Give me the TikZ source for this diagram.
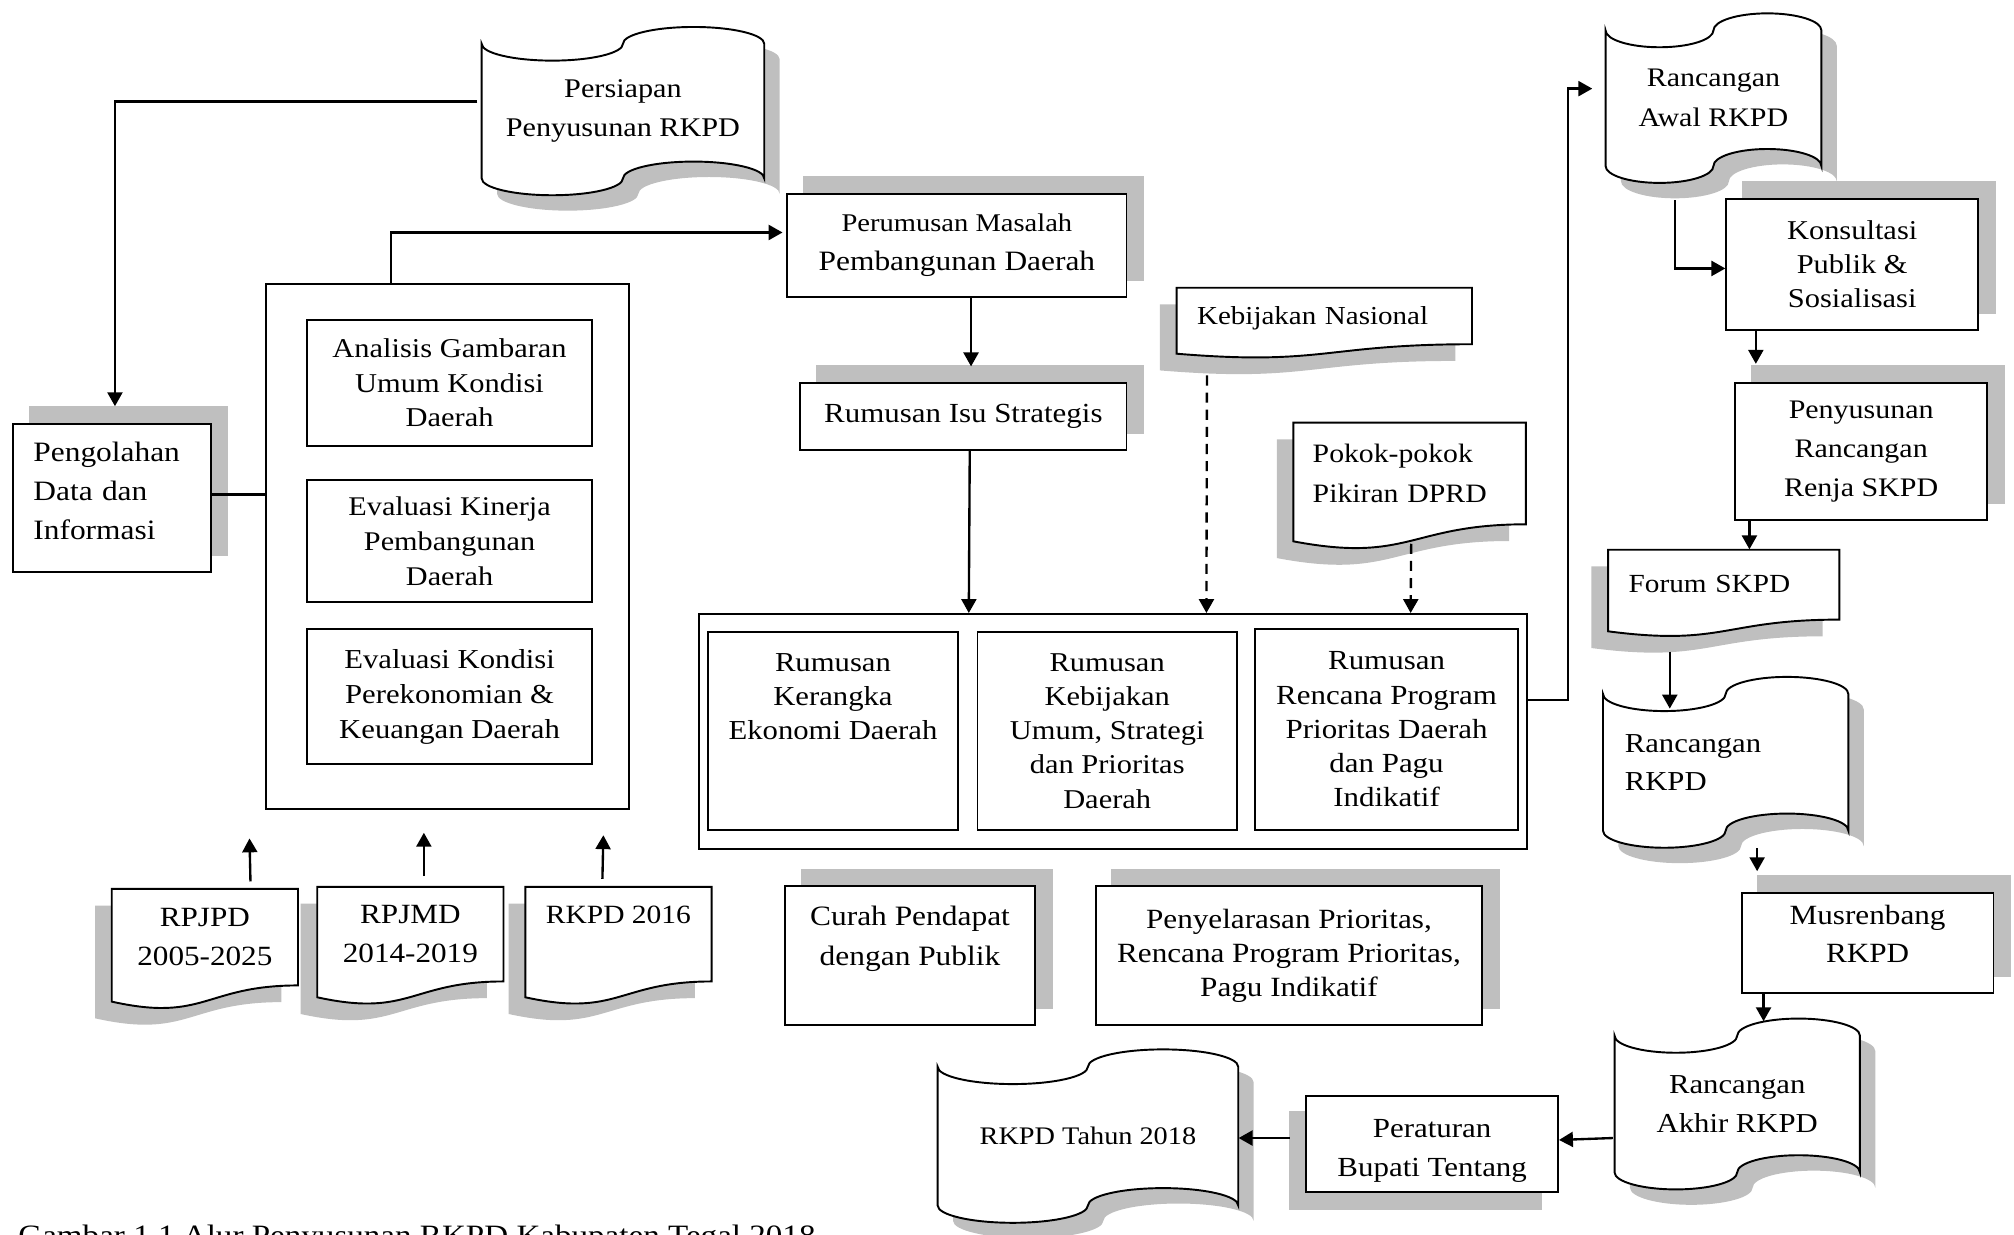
\documentclass[tikz,border=0pt]{standalone}
\usepackage{fontspec}
\setmainfont{Liberation Serif}[FakeStretch=1.12]
\usetikzlibrary{arrows.meta,calc}
\pgfdeclarelayer{shd}
\pgfdeclarelayer{bg}
\pgfsetlayers{shd,bg,main}
\definecolor{shadowc}{RGB}{191,191,191}
\newcommand\fsz[2]{\fontsize{#1}{#2}\selectfont}
\newcommand\tapepath{(0,0.1) .. controls (0,0.1552) and (0.1119,0.2) .. (0.25,0.2) .. controls (0.3881,0.2) and (0.5,0.1552) .. (0.5,0.1) .. controls (0.5,0.0448) and (0.6119,0) .. (0.75,0) .. controls (0.8881,0) and (1,0.0448) .. (1,0.1) -- (1,0.9) .. controls (1,0.8448) and (0.8881,0.8) .. (0.75,0.8) .. controls (0.6119,0.8) and (0.5,0.8448) .. (0.5,0.9) .. controls (0.5,0.9552) and (0.3881,1) .. (0.25,1) .. controls (0.1119,1) and (0,0.9552) .. (0,0.9) -- cycle}
\newcommand\docpath{(0,0) -- (1,0) -- (1,0.8) .. controls (0.5,0.8) and (0.5,1.107) .. (0,0.934) -- cycle}
\newcommand\tapeshape[4]{%
  \begin{pgfonlayer}{shd}\fill[shadowc,shift={(#1+12,#2+12)},xscale=#3,yscale=#4]\tapepath;\end{pgfonlayer}
  \begin{pgfonlayer}{bg}\filldraw[fill=white,draw=black,line width=0.9pt,shift={(#1,#2)},xscale=#3,yscale=#4]\tapepath;\end{pgfonlayer}}
\newcommand\docshape[4]{%
  \begin{pgfonlayer}{shd}\fill[shadowc,shift={(#1-13,#2+13)},xscale=#3,yscale=#4]\docpath;\end{pgfonlayer}
  \begin{pgfonlayer}{bg}\filldraw[fill=white,draw=black,line width=0.9pt,shift={(#1,#2)},xscale=#3,yscale=#4]\docpath;\end{pgfonlayer}}
\newcommand\rshadow[3]{%
  \begin{pgfonlayer}{shd}\fill[shadowc] ($(#1.south west)+(#2,#3)$) rectangle ($(#1.north east)+(#2,#3)$);\end{pgfonlayer}}
\tikzset{
  wh/.style 2 args={minimum width=#1*0.6pt, minimum height=#2*0.6pt},
  box/.style={draw, fill=white, line width=0.9pt, inner sep=0pt, align=center, font=\fsz{12.8}{18}},
  ghost/.style={inner sep=0pt, align=center, font=\fsz{12.8}{18}},
  conn/.style={line width=1.1pt},
  arr/.style={conn, -{Triangle[length=6.5pt,width=7pt]}},
  darr/.style={arr, dash pattern=on 4.7pt off 3.3pt},
}
\begin{document}
\begin{tikzpicture}[x=0.6pt,y=-0.6pt]
\useasboundingbox (0,0) rectangle (1568,961.5);

% ---------- left column ----------
\tapeshape{375}{21}{220}{131}
\node[ghost,wh={220}{131},font=\fsz{12.6}{18}] (pers) at (485,86.5) {Persiapan\\Penyusunan RKPD};

\node[box,wh={154}{115},text width=73.2pt,align=left,font=\fsz{13.1}{18.3}] (peng) at (87,387.5) {Pengolahan\\Data dan\\Informasi\\[-12pt]\mbox{}};
\rshadow{peng}{13}{-13}

\node[box,wh={283}{409}] (outer) at (348.5,425.5) {};
\node[box,wh={222}{98},font=\fsz{12.7}{16.2}] (anal) at (350,298) {Analisis Gambaran\\Umum Kondisi\\Daerah};
\node[box,wh={222}{95},font=\fsz{12.6}{16.2}] (evk) at (350,421.5) {Evaluasi Kinerja\\Pembangunan\\Daerah};
\node[box,wh={222}{105},font=\fsz{12.8}{16.2}] (evko) at (350,542.5) {Evaluasi Kondisi\\Perekonomian \&\\Keuangan Daerah};

\docshape{87}{692}{145}{94}
\node[ghost,wh={145}{75},font=\fsz{13}{18}] (rpjpd) at (159.5,729.5) {RPJPD\\2005-2025};
\docshape{247}{690.5}{145}{92}
\node[ghost,wh={145}{73.6},font=\fsz{13}{18}] (rpjmd) at (319.5,727.3) {RPJMD\\2014-2019};
\docshape{409}{690.5}{145}{92}
\node[ghost,wh={145}{73.6},font=\fsz{12.3}{18}] (rk16) at (481.5,727.3) {RKPD 2016\\\mbox{}};

% ---------- middle ----------
\node[box,wh={264}{80},font=\fsz{13.1}{18}] (perum) at (745,191) {{\fsz{11.9}{18}Perumusan Masalah}\\Pembangunan Daerah};
\rshadow{perum}{13}{-13}
\node[box,wh={254}{52},font=\fsz{12.9}{18}] (isu) at (750,324) {Rumusan Isu Strategis};
\rshadow{isu}{13}{-13}

\docshape{916}{224}{230}{55}
\node[ghost,wh={230}{44},text width=118.8pt,align=left,font=\fsz{12.1}{18}] (kebnas) at (1031,247.5) {Kebijakan Nasional};
\docshape{1007}{329}{181}{99}
\node[ghost,wh={181}{79},text width=90.6pt,align=left,font=\fsz{12.4}{18.6}] (pokok) at (1097.5,368.5) {Pokok-pokok\\Pikiran DPRD};

\node[box,wh={645}{183}] (big) at (866.5,569.5) {};
\node[box,wh={195}{154},font=\fsz{12.8}{16}] (rkek) at (648.5,569) {Rumusan\\Kerangka\\Ekonomi Daerah\\\mbox{}\\\mbox{}};
\node[box,wh={202}{154},font=\fsz{12.7}{16}] (rkeb) at (862,569) {Rumusan\\Kebijakan\\Umum, Strategi\\dan Prioritas\\Daerah};
\node[box,wh={205}{156},font=\fsz{12.9}{16}] (rprog) at (1079.5,568) {Rumusan\\Rencana Program\\Prioritas Daerah\\dan Pagu\\Indikatif};

\node[box,wh={195}{108},font=\fsz{13.1}{18.6}] (curah) at (708.5,744) {Curah Pendapat\\dengan Publik\\\mbox{}};
\rshadow{curah}{13}{-13}
\node[box,wh={301}{108},font=\fsz{13.0}{15.9}] (selaras) at (1003.5,744) {Penyelarasan Prioritas,\\Rencana Program Prioritas,\\Pagu Indikatif};
\rshadow{selaras}{13}{-13}

\tapeshape{730}{817}{234}{135}
\node[ghost,wh={234}{135},font=\fsz{11.8}{18}] (rk18) at (847,884.5) {RKPD Tahun 2018};
\node[box,wh={196}{75},font=\fsz{12.9}{18}] (perat) at (1115,890.5) {\rule{0pt}{15pt}Peraturan\\Bupati Tentang};
\rshadow{perat}{-13}{13}

% ---------- right column ----------
\tapeshape{1250}{10.4}{168}{132}
\node[ghost,wh={168}{132},font=\fsz{12.5}{18.6}] (awal) at (1334,76.4) {Rancangan\\Awal RKPD};
\node[box,wh={196}{102},font=\fsz{12.7}{15.9}] (kons) at (1442,206) {Konsultasi\\Publik \&\\Sosialisasi};
\rshadow{kons}{13}{-13}
\node[box,wh={196}{107},font=\fsz{12.5}{18.3}] (renja) at (1449,351.5) {Penyusunan\\Rancangan\\Renja SKPD};
\rshadow{renja}{13}{-13}
\docshape{1252}{428}{180}{68}
\node[ghost,wh={180}{54},text width=88.8pt,align=left,font=\fsz{12.2}{18}] (forum) at (1342,455) {Forum SKPD};
\tapeshape{1248}{527}{191}{133}
\node[ghost,wh={191}{133},text width=94.2pt,align=left,font=\fsz{12.8}{18}] (rrkpd) at (1343.5,593.5) {Rancangan\\RKPD};
\node[box,wh={196}{78},font=\fsz{13.0}{17.4}] (mus) at (1454,734) {Musrenbang\\RKPD\\[-9pt]\mbox{}};
\rshadow{mus}{13}{-13}
\tapeshape{1257}{793}{191}{133}
\node[ghost,wh={191}{133},font=\fsz{12.8}{18.6}] (akhir) at (1352.5,859.5) {Rancangan\\Akhir RKPD};

% ---------- caption (cut by the lower edge, as in the reference) ----------
\node[anchor=base west,inner sep=0pt,font=\fsz{13.8}{16}] (cap) at (14,969.7) {Gambar 1.1 Alur Penyusunan RKPD Kabupaten Tegal 2018};

% ---------- connectors ----------
\draw[arr] ($(pers.west)+(-3,-7.5)$) -| ($(peng.north)+(2.5,-13)$);
\draw[conn] ($(peng.east)+(0,-2.5)$) -- ($(outer.west)+(0,-40.5)$);
\draw[arr] ($(outer.north west)+(98,0)$) |- ($(perum.west)+(-3,-10)$);
\draw[arr] ($(perum.south)+(11,0)$) -- ($(isu.north)+(6,-12)$);
\draw[arr] ($(isu.south)+(5,0)$) -- ($(big.north west)+(211,0)$);
\draw[darr] ($(kebnas.south west)+(24,22.5)$) -- ($(big.north west)+(396,0)$);
\draw[darr] ($(pokok.south west)+(92,15)$) -- ($(big.north west)+(555,0)$);
\draw[arr] ($(big.east)+(0,-24.5)$) -- ++(31,0) |- ($(awal.west)+(-10,-7.4)$);
\draw[arr] ($(awal.south)+(-30,13)$) |- ($(kons.west)+(0,3)$);
\draw[arr] ($(kons.south)+(-75,0)$) -- ($(renja.north)+(-82,-14)$);
\draw[arr] ($(renja.south)+(-87,0)$) -- ($(forum.north)+(20,0)$);
\draw[arr] ($(forum.south)+(-42,25)$) -- ($(rrkpd.north)+(-43.5,25)$);
\draw[arr] ($(rrkpd.south)+(24.5,0)$) -- ($(mus.north)+(-86,-16)$);
\draw[arr] ($(mus.south)+(-81,0)$) -- ($(akhir.north)+(20.5,2.4)$);
\draw[arr] ($(akhir.west)+(-1,26.5)$) -- ($(perat.east)+(0,-3)$);
\draw[arr] ($(perat.west)+(-12,-4.5)$) -- ($(rk18.east)+(0,1.5)$);
\draw[arr] ($(rpjpd.north)+(35.5,-5.4)$) -- ($(outer.south west)+(-12,22)$);
\draw[arr] ($(rpjmd.north)+(10.5,-8)$) -- ($(outer.south)+(-18.5,17.6)$);
\draw[arr] ($(rk16.north)+(-12.5,-6)$) -- ($(outer.south east)+(-21,19.5)$);
\end{tikzpicture}
\end{document}
